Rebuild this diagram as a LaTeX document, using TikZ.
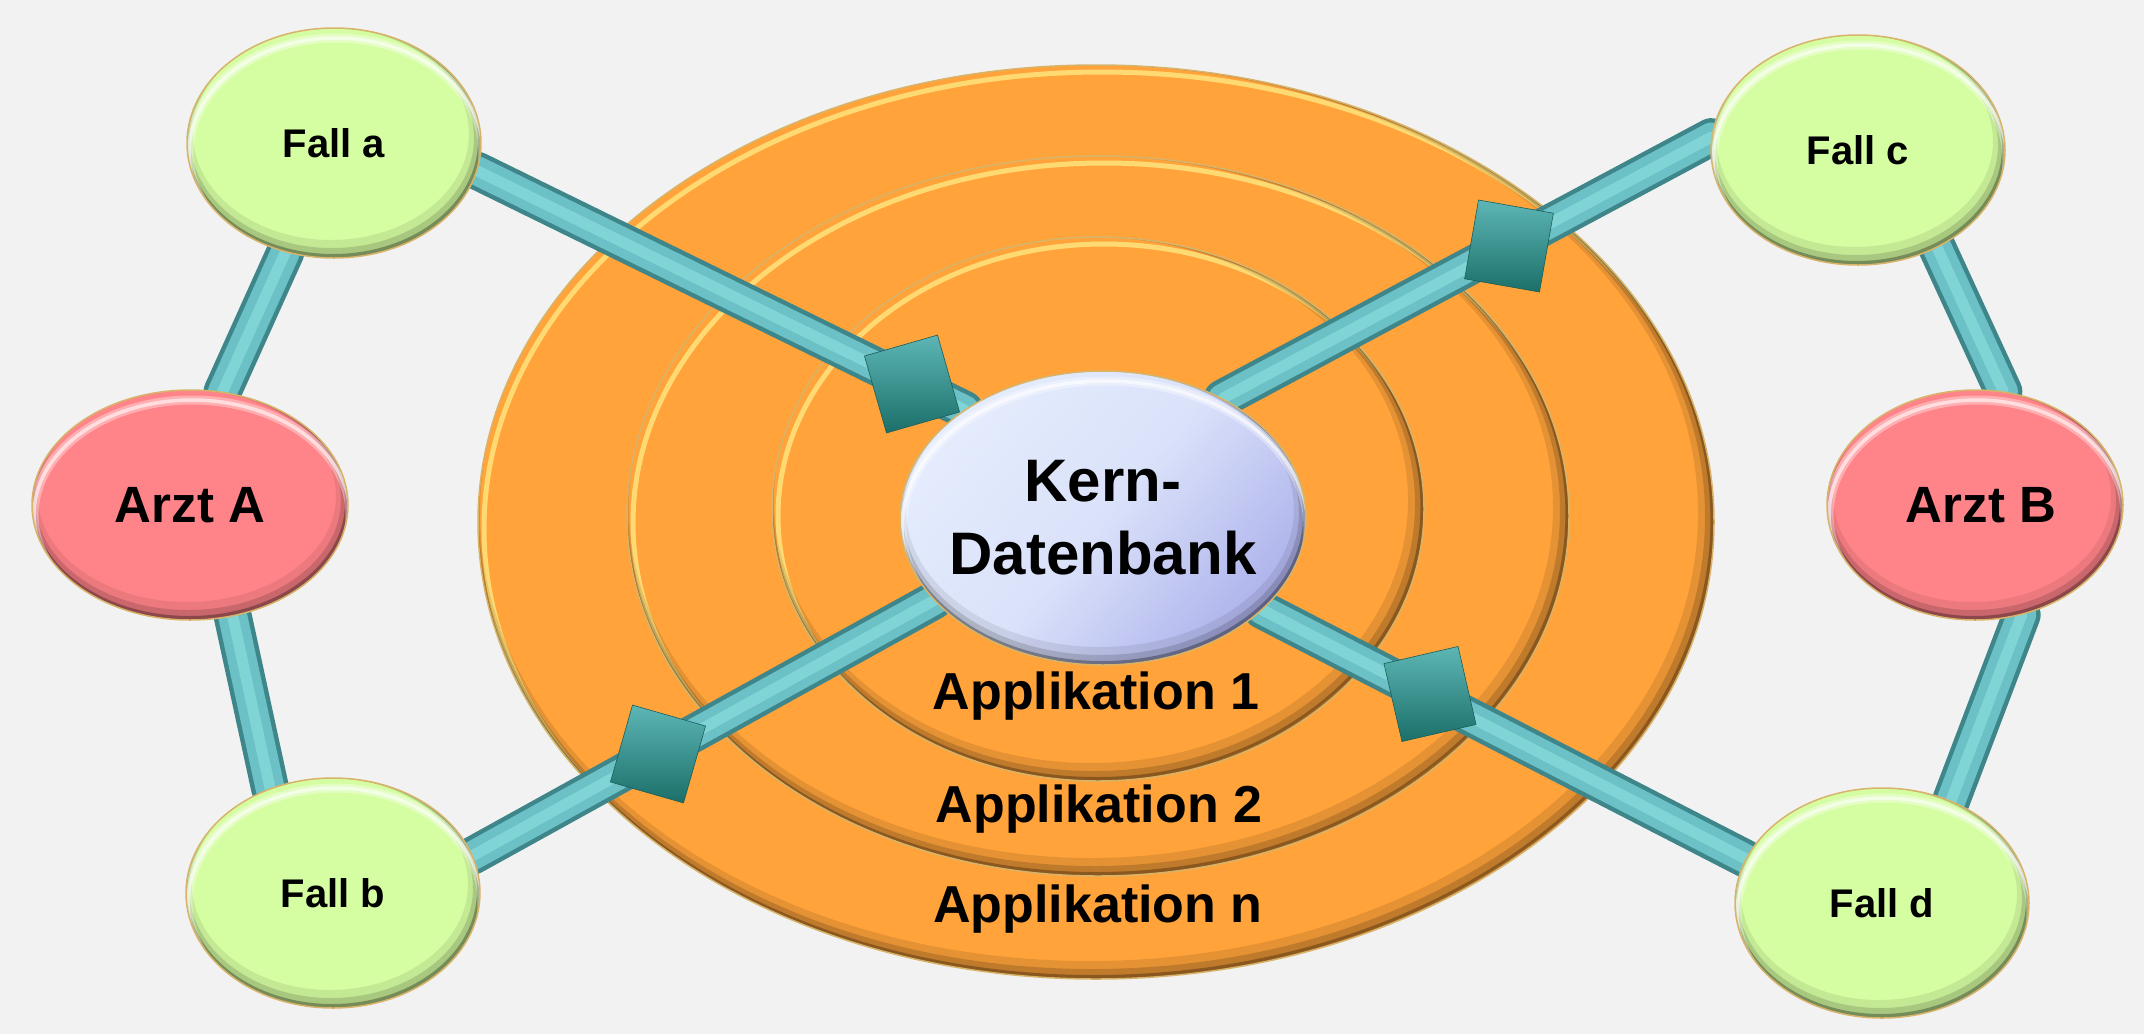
\documentclass[tikz,border=0pt]{standalone}
\usepackage{fontspec}
\setmainfont{Liberation Sans}
\usetikzlibrary{shapes.geometric,calc}

\pgfdeclarelayer{ringlayer}
\pgfdeclarelayer{tubelayer}
\pgfsetlayers{ringlayer,tubelayer,main}

\definecolor{paper}{HTML}{F2F2F2}
\definecolor{ringorange}{HTML}{FFA33A}
\definecolor{ringlight}{HTML}{FFE07A}
\definecolor{rimgold}{HTML}{D8B46A}
\definecolor{fallgreen}{HTML}{D5FDA2}
\definecolor{arztpink}{HTML}{FF8489}
\definecolor{kernlight}{HTML}{E4ECFD}
\definecolor{kerndark}{HTML}{ADB2EB}
\definecolor{tubedark}{HTML}{3F868B}
\definecolor{tubemid}{HTML}{6BC1C5}
\definecolor{tubeshine}{HTML}{80D4D6}
\definecolor{plugtop}{HTML}{5DB6B5}
\definecolor{plugbottom}{HTML}{1C6F69}

\newcommand\fallfont{\fontsize{40}{48}\selectfont\bfseries}
\newcommand\arztfont{\fontsize{51}{60}\selectfont\bfseries}
\newcommand\kernfont{\fontsize{60}{73}\selectfont\bfseries}
\newcommand\appfont{\fontsize{52}{60}\selectfont\bfseries}

\tikzset{
  % soft inner shadow at the lower edge and a light rim at the upper edge
  bevel/.style 2 args={path picture={
      \draw[line width=18pt, black, opacity=0.08]
        ([xshift=-3pt, yshift=9pt]path picture bounding box.center) ellipse [x radius=#1, y radius=#2];
      \draw[line width=10pt, black, opacity=0.14]
        ([xshift=-2pt, yshift=5pt]path picture bounding box.center) ellipse [x radius=#1, y radius=#2];
      \draw[line width=4pt, black, opacity=0.30]
        ([xshift=-1pt, yshift=2pt]path picture bounding box.center) ellipse [x radius=#1, y radius=#2];
      \draw[line width=9pt, white, opacity=0.35]
        ([xshift=2pt, yshift=-10pt]path picture bounding box.center) ellipse [x radius=#1, y radius=#2];
      \draw[line width=3.5pt, white, opacity=0.6]
        ([xshift=2pt, yshift=-10pt]path picture bounding box.center) ellipse [x radius=#1, y radius=#2];
  }},
  bubble/.style n args={3}{ellipse, inner sep=0pt, minimum width=2*#1, minimum height=2*#2,
    fill=#3, draw=rimgold, line width=1.5pt, bevel={#1}{#2}},
  fallnode/.style={bubble={147pt}{115pt}{fallgreen}, font=\fallfont},
  arztnode/.style={bubble={#1}{115pt}{arztpink}, font=\arztfont},
  kernnode/.style={bubble={203pt}{147pt}{kernlight}, inner xsep=-40pt,
    top color=kernlight, bottom color=kerndark, middle color=kernlight!82!kerndark,
    shading angle=50, font=\kernfont, align=center},
  plug/.style={rectangle, minimum width=76pt, minimum height=80pt, inner sep=0pt,
    top color=plugtop, bottom color=plugbottom, draw=plugbottom!85!black, line width=0.6pt},
  applabel/.style={anchor=base, inner sep=0pt, font=\appfont},
  tubeouter/.style={line width=38pt, line cap=round, draw=tubedark},
  tubebody/.style={line width=29pt, line cap=round, draw=tubemid},
  tubeglow/.style={line width=11pt, line cap=round, draw=tubeshine},
}

% bevelled orange disc: centre, x radius, y radius
\newcommand\orangering[3]{%
  \fill[ringorange] (#1) ellipse [x radius=#2, y radius=#3];
  \begin{scope}
    \clip (#1) ellipse [x radius=#2, y radius=#3];
    \draw[line width=5pt, ringlight, opacity=0.9] ($(#1)+(6,7)$) ellipse [x radius=#2, y radius=#3];
    \draw[line width=18pt, black, opacity=0.10] ($(#1)+(-7,-9)$) ellipse [x radius=#2, y radius=#3];
    \draw[line width=10pt, black, opacity=0.16] ($(#1)+(-4,-5)$) ellipse [x radius=#2, y radius=#3];
    \draw[line width=4pt, black, opacity=0.28] ($(#1)+(-1.6,-2)$) ellipse [x radius=#2, y radius=#3];
  \end{scope}
  \draw[rimgold, line width=1.5pt] (#1) ellipse [x radius=#2, y radius=#3];}

% cylindrical connector between two anchors
\newcommand\tubelink[2]{%
  \draw[tubeouter] (#1) -- (#2);
  \draw[tubebody] (#1) -- (#2);
  \draw[tubeglow] (#1) -- (#2);}

\begin{document}
\begin{tikzpicture}[x=1pt, y=-1pt]
\useasboundingbox (0,0) rectangle (2144,1034);

\begin{pgfonlayer}{ringlayer}
  \fill[paper] (0,0) rectangle (2144,1034);
  \orangering{1096,522}{618pt}{457pt}
  \orangering{1098,516}{471pt}{360pt}
  \orangering{1098,509}{326pt}{272pt}
\end{pgfonlayer}

% nodes
\node[fallnode] (fa) at (334,143) {Fall a};
\node[fallnode] (fb) at (333,893) {Fall b};
\node[fallnode] (fc) at (1858,150) {Fall c};
\node[fallnode] (fd) at (1882,903) {Fall d};
\node[arztnode={158pt}] (aa) at (190,505) {Arzt A};
\node[arztnode={148pt}] (ab) at (1975,505) {\hspace*{12pt}Arzt B};
\node[kernnode] (kern) at (1103,518) {Kern-\\Datenbank};

% connectors
\begin{pgfonlayer}{tubelayer}
  \tubelink{aa.74}{fa.246}
  \tubelink{aa.291}{fb.121}
  \tubelink{fc.309}{ab.76}
  \tubelink{ab.293}{fd.56}
  \tubelink{fa.349}{kern.142}
  \tubelink{fb.15}{kern.206}
  \tubelink{fc.175}{kern.45}
  \tubelink{fd.162}{kern.330}
\end{pgfonlayer}

% connector plugs
\node[plug, rotate=16] (pa) at (912,384) {};
\node[plug, rotate=-16] (pb) at (658,754) {};
\node[plug, rotate=-10] (pc) at (1509,246) {};
\node[plug, rotate=13] (pd) at (1430,694) {};

% layer labels
\node[applabel] (app1) at (1096,709) {Applikation 1};
\node[applabel] (app2) at (1099,822) {Applikation 2};
\node[applabel] (appn) at (1098,922) {Applikation n};
\end{tikzpicture}
\end{document}
